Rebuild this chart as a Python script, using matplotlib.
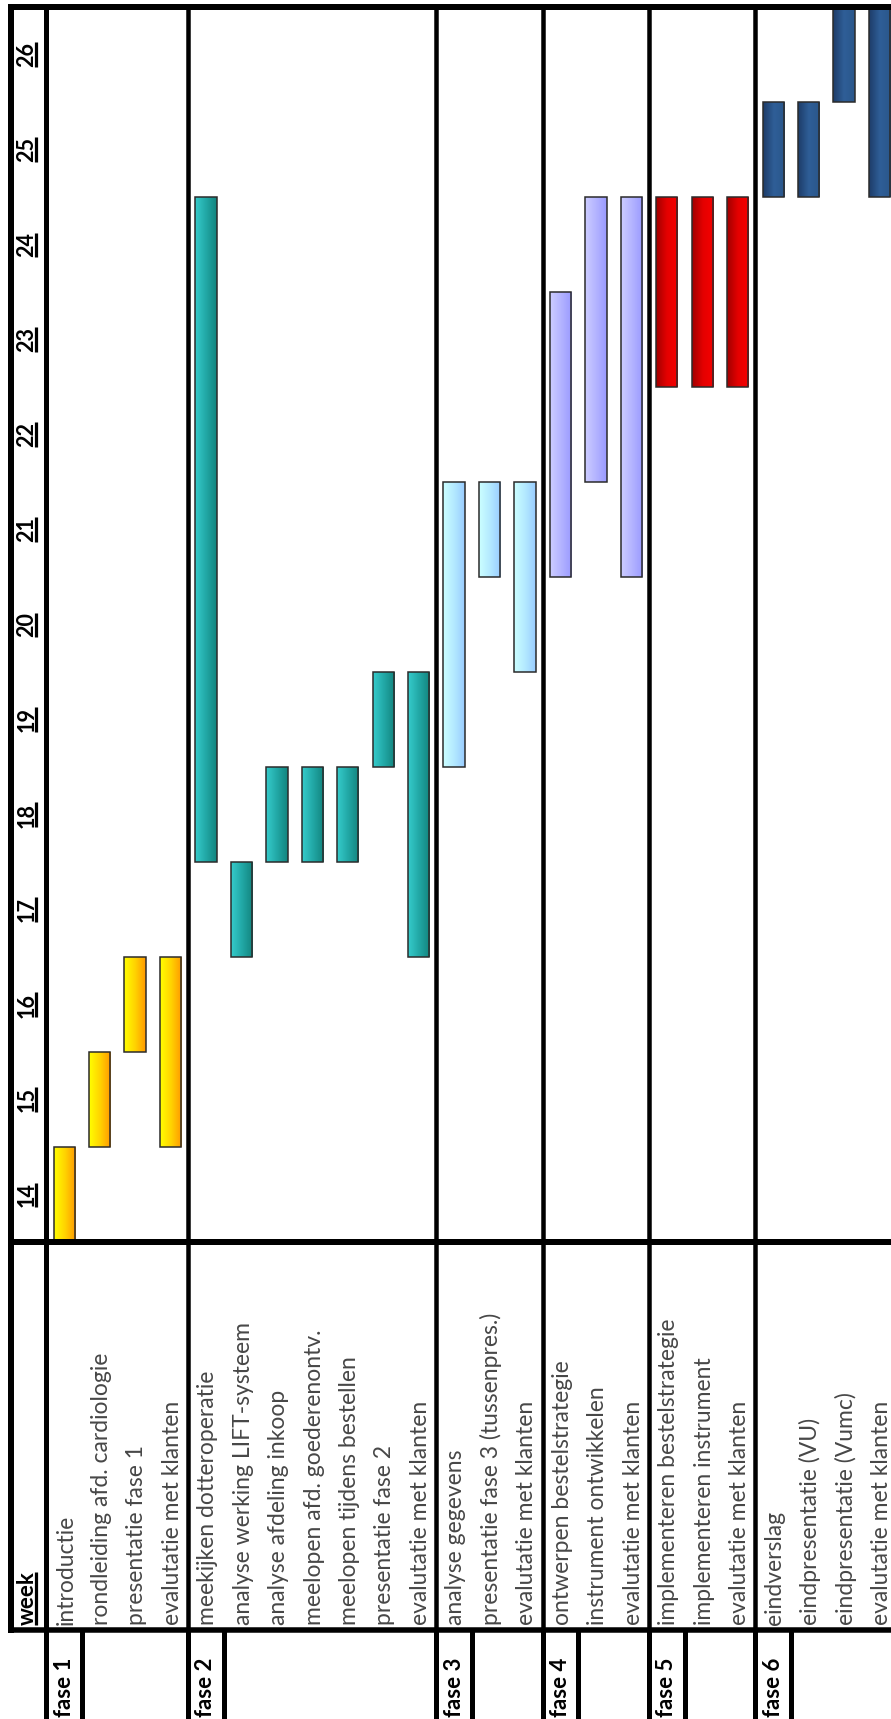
import numpy as np
import matplotlib
matplotlib.use("Agg")
import matplotlib.pyplot as plt
from matplotlib.colors import LinearSegmentedColormap

# ---- schedule data -------------------------------------------------------
weeks = list(range(14, 27))
phases = ["fase 1", "fase 2", "fase 3", "fase 4", "fase 5", "fase 6"]
phase_sizes = [4, 7, 3, 3, 3, 4]
tasks = [
    "introductie", "rondleiding afd. cardiologie", "presentatie fase 1",
    "evalutatie met klanten",
    "meekijken dotteroperatie", "analyse werking LIFT-systeem",
    "analyse afdeling inkoop", "meelopen afd. goederenontv.",
    "meelopen tijdens bestellen", "presentatie fase 2", "evalutatie met klanten",
    "analyse gegevens", "presentatie fase 3 (tussenpres.)", "evalutatie met klanten",
    "ontwerpen bestelstrategie", "instrument ontwikkelen", "evalutatie met klanten",
    "implementeren bestelstrategie", "implementeren instrument",
    "evalutatie met klanten",
    "eindverslag", "eindpresentatie (VU)", "eindpresentatie (Vumc)",
    "evalutatie met klanten",
]
start_week = [14, 15, 16, 15,
              18, 17, 18, 18, 18, 19, 17,
              19, 21, 20,
              21, 22, 21,
              23, 23, 23,
              25, 25, 26, 25]
end_week = [14, 15, 16, 16,
            24, 17, 18, 18, 18, 19, 19,
            21, 21, 21,
            23, 24, 24,
            24, 24, 24,
            25, 25, 26, 26]

# gradient stops per phase (left -> right across each bar)
phase_gradients = [
    ["#FFFF00", "#FFD400", "#FF9800"],
    ["#36CCCC", "#22A8A6", "#12847E"],
    ["#CCFFFF", "#B4EAFF", "#99CCFF"],
    ["#CDCDFF", "#B4B4FF", "#9A9AFF"],
    ["#A00000", "#E40000", "#F60000"],
    ["#1D3C68", "#2F5E97", "#2A578B"],
]

# ---- layout (row units across, week units down the page) ---------------
W, H, DPI = 891, 1719, 100
row_px = 35.45          # width of one table row in pixels
left_px = 11.0          # centre of the outer left border
week_px = 95.0          # height of one week column
top_px = 7.5            # centre of the outer top border

top_w = weeks[-1] + 0.5
gantt_bottom = weeks[0] - 0.5
table_bottom = gantt_bottom - 4.08

fig = plt.figure(figsize=(W / DPI, H / DPI), dpi=DPI)
ax = fig.add_axes([0, 0, 1, 1])
ax.set_axis_off()

x_lo = -left_px / row_px
x_hi = (W - left_px) / row_px
y_hi = top_w + top_px / week_px
y_lo = top_w - (H - top_px) / week_px

phase_start = np.concatenate([[0], np.cumsum(phase_sizes)[:-1]]) + 1
task_phase = np.repeat(np.arange(len(phases)), phase_sizes)
task_row = np.arange(len(tasks)) + 1

FONT = ["Lato", "DejaVu Sans"]

# ---- bars with horizontal gradients --------------------------------------
bar_w = 0.6
starts = np.array(start_week) - 0.5
lengths = np.array(end_week) - np.array(start_week) + 1
bars = ax.bar(task_row + 0.5, lengths, bottom=starts, width=bar_w,
              color="none", edgecolor="none", zorder=2)
grad = np.linspace(0, 1, 256).reshape(1, -1)
for patch, ph in zip(bars, task_phase):
    cmap = LinearSegmentedColormap.from_list("g%d" % ph, phase_gradients[ph])
    x0, y0 = patch.get_x(), patch.get_y()
    im = ax.imshow(grad, cmap=cmap, aspect="auto", interpolation="bilinear",
                   extent=[x0, x0 + patch.get_width(), y0, y0 + patch.get_height()],
                   zorder=2.2)
    im.set_clip_path(patch)
ax.bar(task_row + 0.5, lengths, bottom=starts, width=bar_w,
       fill=False, edgecolor="#2b2b2b", linewidth=1.1, zorder=3)

# ---- table rules ---------------------------------------------------------
def px(v):
    return v * 72.0 / DPI

def rule(xs, ys, lw):
    ax.plot(xs, ys, color="black", linewidth=px(lw),
            solid_capstyle="projecting", zorder=4)

rule([0, x_hi + 1], [top_w, top_w], 6)
rule([0, 0], [top_w, table_bottom], 6)
rule([0, x_hi + 1], [gantt_bottom, gantt_bottom], 6)
rule([0, x_hi + 1], [table_bottom, table_bottom], 5.5)
rule([1, 1], [top_w, y_lo - 1], 5)
for s in phase_start[1:]:
    rule([s, s], [top_w, table_bottom], 4.5)
for s in phase_start:
    rule([s, s], [table_bottom, y_lo - 1], 5)
    rule([s + 1, s + 1], [table_bottom, y_lo - 1], 5)

# ---- text ----------------------------------------------------------------
underlined = []
for w in weeks:
    t = ax.text(0.45, w, str(w), rotation=90, ha="center", va="center",
                fontsize=15.5, fontweight="bold", family=FONT, color="black",
                zorder=5)
    underlined.append(t)

t = ax.text(0.45, table_bottom + 0.05, "week", rotation=90, ha="center",
            va="bottom", fontsize=16, fontweight="bold", family=FONT,
            color="black", zorder=5)
underlined.append(t)

for r, name in zip(task_row, tasks):
    ax.text(r + 0.55, table_bottom + 0.05, name, rotation=90, ha="center",
            va="bottom", fontsize=16.5, fontweight="normal", family=FONT,
            color="#474747", zorder=5)

for s, name in zip(phase_start, phases):
    ax.text(s + 0.5, y_lo + 0.02, name, rotation=90, ha="center",
            va="bottom", fontsize=16, fontweight="bold", family=FONT,
            color="black", zorder=5)

ax.set_xlim(x_lo, x_hi)
ax.set_ylim(y_lo, y_hi)

# underline the header labels (rotated text: underline sits to the right)
fig.canvas.draw()
renderer = fig.canvas.get_renderer()
inv = ax.transData.inverted()
for t in underlined:
    bb = t.get_window_extent(renderer)
    (ux0, uy0), (ux1, uy1) = inv.transform([[bb.x0, bb.y0], [bb.x1, bb.y1]])
    ux = ux1 - 1.5 / row_px
    ax.plot([ux, ux], [uy0, uy1], color="black", linewidth=px(3.2),
            solid_capstyle="butt", zorder=5)

ax.set_xlim(x_lo, x_hi)
ax.set_ylim(y_lo, y_hi)
fig.savefig("out.png", dpi=DPI, facecolor="white")
